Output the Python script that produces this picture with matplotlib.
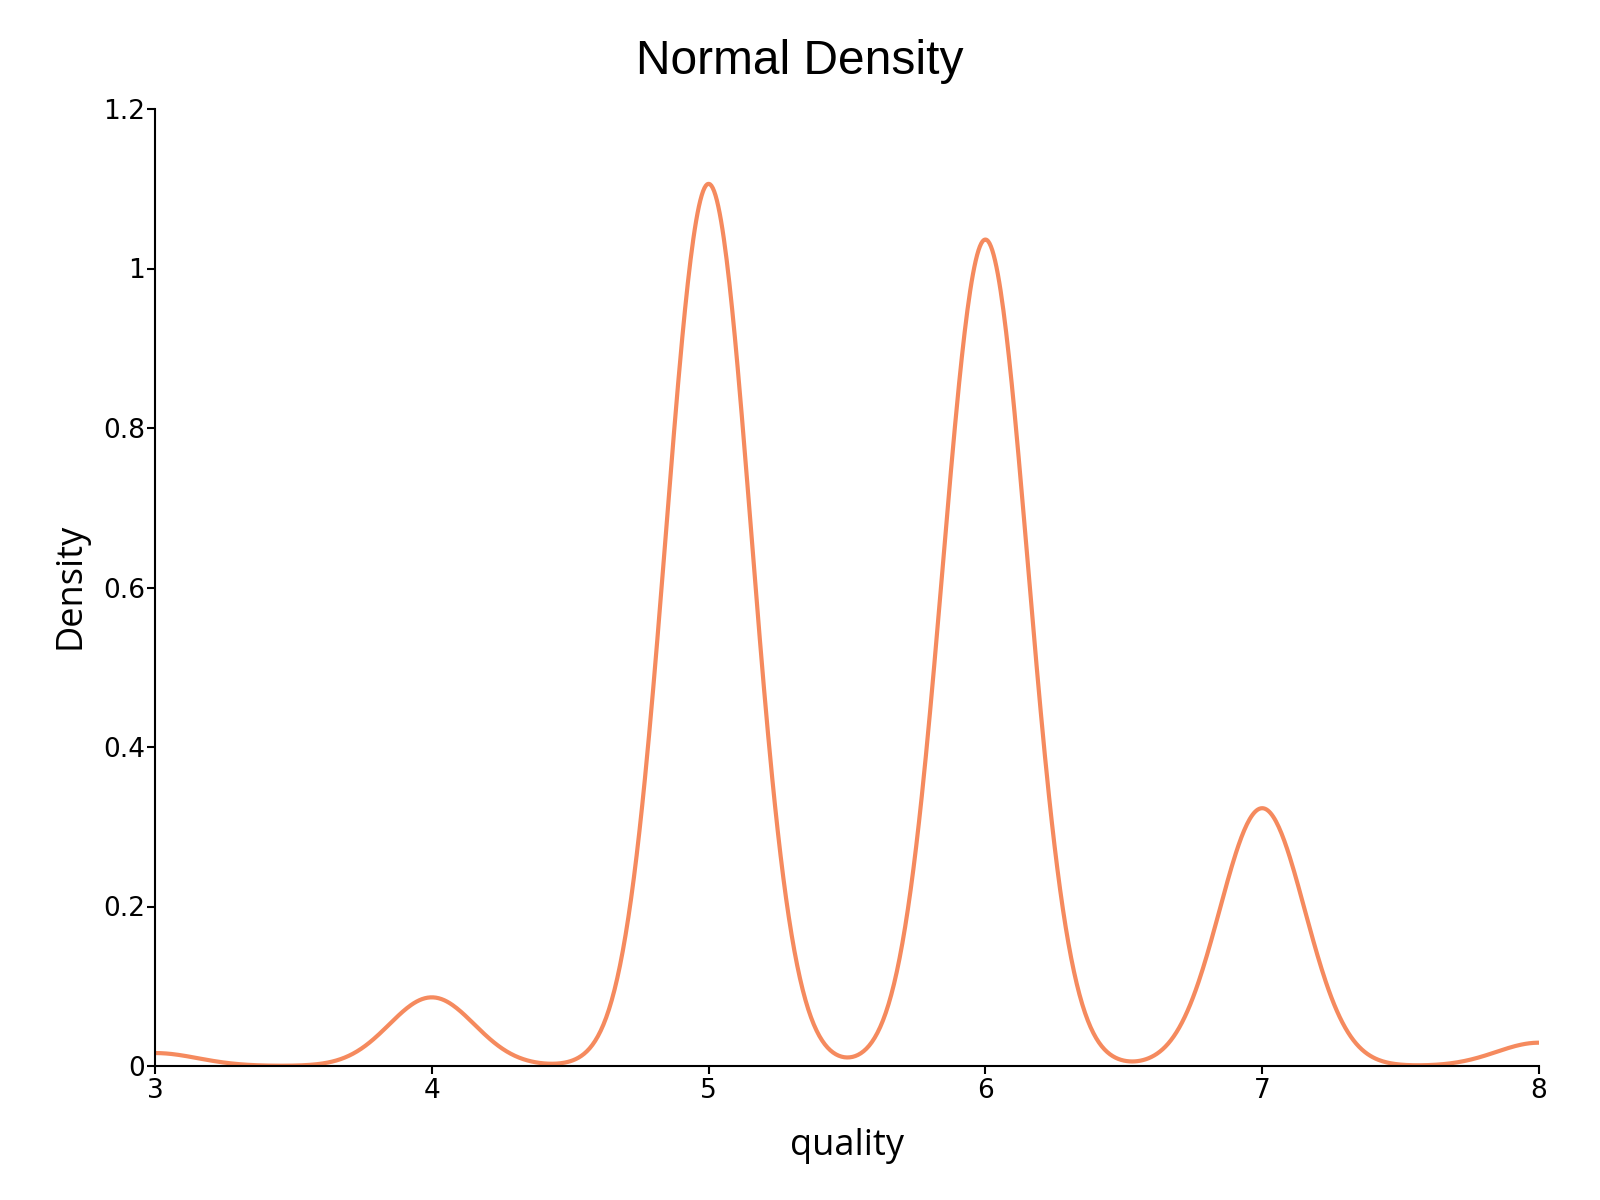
import numpy as np
import matplotlib
matplotlib.use("Agg")
import matplotlib.pyplot as plt
from matplotlib.ticker import FuncFormatter

# Red wine quality observations (level -> count); density curve is a Gaussian KDE of these
quality_levels = [3, 4, 5, 6, 7, 8]
quality_counts = [10, 53, 681, 638, 199, 18]

x_ticks = [3, 4, 5, 6, 7, 8]
y_ticks = [0, 0.2, 0.4, 0.6, 0.8, 1.0, 1.2]

title_text = "Normal Density"
x_label = "quality"
y_label = "Density"

line_color = "#F58A5E"

# observations
obs = np.repeat(np.array(quality_levels, dtype=float), quality_counts)
n = obs.size
sd = obs.std(ddof=1)
iqr = np.percentile(obs, 75) - np.percentile(obs, 25)
bw = 0.9 * min(sd, iqr / 1.34) * n ** (-0.2)  # Silverman's rule

grid = np.linspace(min(quality_levels), max(quality_levels), 1001)
dens = np.zeros_like(grid)
for lv, c in zip(quality_levels, quality_counts):
    dens += c * np.exp(-0.5 * ((grid - lv) / bw) ** 2)
dens /= n * bw * np.sqrt(2 * np.pi)

W, H = 1600, 1200
fig = plt.figure(figsize=(16, 12), dpi=100)
ax = fig.add_axes([155 / W, 1 - 1066 / H, (1539 - 155) / W, (1066 - 109) / H])

ax.plot(grid, dens, color=line_color, lw=3.0, solid_capstyle="butt")

ax.set_xlim(3, 8)
ax.set_ylim(0, 1.2)
ax.set_xticks(x_ticks)
ax.set_yticks(y_ticks)
ax.yaxis.set_major_formatter(FuncFormatter(lambda v, p: f"{v:g}"))
ax.xaxis.set_major_formatter(FuncFormatter(lambda v, p: f"{v:g}"))

for s in ["top", "right"]:
    ax.spines[s].set_visible(False)
for s in ["left", "bottom"]:
    ax.spines[s].set_linewidth(1.5)
    ax.spines[s].set_color("black")

ax.tick_params(axis="both", direction="out", length=6, width=1.5, colors="black",
               labelsize=19)
ax.tick_params(axis="x", pad=3)
ax.tick_params(axis="y", pad=1)
for lab in ax.get_xticklabels() + ax.get_yticklabels():
    lab.set_fontfamily("DejaVu Sans")

fig.text(800 / W, 1 - 74 / H, title_text, ha="center", va="baseline",
         fontsize=34.5, fontfamily="Liberation Sans")
fig.text(847 / W, 1 - 1155 / H, x_label, ha="center", va="baseline",
         fontsize=26, fontfamily="Open Sans")
fig.text(70 / W, 1 - 586 / H, y_label, ha="center", va="center", rotation=90,
         fontsize=26, fontfamily="Open Sans")

fig.savefig("out.png", dpi=100, facecolor="white")
